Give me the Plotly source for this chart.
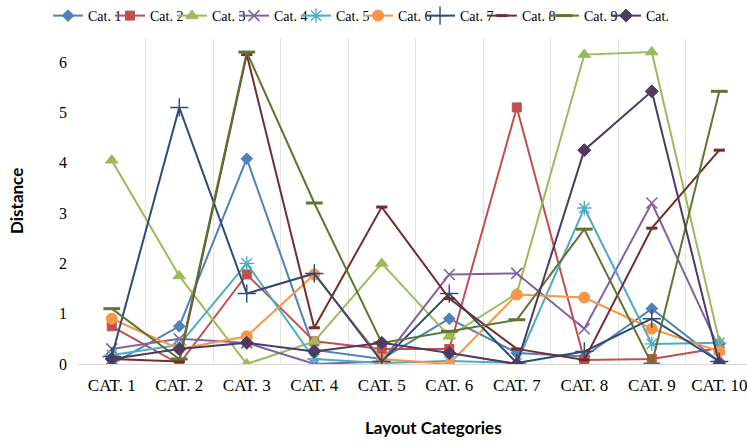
import plotly.graph_objects as go

categories = ["CAT. 1", "CAT. 2", "CAT. 3", "CAT. 4", "CAT. 5",
              "CAT. 6", "CAT. 7", "CAT. 8", "CAT. 9", "CAT. 10"]

series_names = ["Cat. 1", "Cat. 2", "Cat. 3", "Cat. 4", "Cat. 5",
                "Cat. 6", "Cat. 7", "Cat. 8", "Cat. 9", "Cat. 10"]

cat1 = [0.0, 0.75, 4.08, 0.28, 0.10, 0.90, 0.22, 0.15, 1.10, 0.05]
cat2 = [0.75, 0.0, 1.78, 0.45, 0.30, 0.30, 5.10, 0.08, 0.10, 0.32]
cat3 = [4.05, 1.75, 0.0, 0.45, 2.00, 0.55, 1.40, 6.15, 6.20, 0.45]
cat4 = [0.30, 0.50, 0.42, 0.0, 0.05, 1.78, 1.80, 0.70, 3.20, 0.30]
cat5 = [0.18, 0.38, 2.00, 0.10, 0.02, 0.06, 0.02, 3.10, 0.40, 0.42]
cat6 = [0.90, 0.30, 0.55, 1.78, 0.10, 0.0, 1.38, 1.32, 0.70, 0.25]
cat7 = [0.15, 5.10, 1.40, 1.80, 0.05, 1.40, 0.02, 0.25, 0.90, 0.05]
cat8 = [0.10, 0.05, 6.15, 0.72, 3.12, 1.30, 0.30, 0.08, 2.70, 4.25]
cat9 = [1.10, 0.10, 6.20, 3.20, 0.42, 0.65, 0.88, 2.68, 0.0, 5.42]
cat10 = [0.10, 0.30, 0.42, 0.25, 0.42, 0.22, 0.0, 4.25, 5.42, 0.0]

values = [cat1, cat2, cat3, cat4, cat5, cat6, cat7, cat8, cat9, cat10]

colors = ["#4F81BD", "#C0504D", "#9BBB59", "#8064A2", "#4BACC6",
          "#F79646", "#2C4D75", "#772C2A", "#5F7530", "#4D3B62"]
symbols = ["diamond", "square", "triangle-up", "x-thin-open", "asterisk-open",
           "circle", "cross-thin-open", "line-ew-open", "line-ew-open", "diamond"]
sizes = [9, 9, 11, 11, 12, 11, 13, 8, 12, 10]
mline = [1, 1, 1, 1.6, 1.4, 1, 1.4, 3, 3, 1]

fig = go.Figure()
for name, vals, c, s, sz, lw in zip(series_names, values, colors, symbols, sizes, mline):
    fig.add_trace(go.Scatter(
        x=categories, y=vals, name=name, mode="lines+markers",
        line=dict(color=c, width=2),
        marker=dict(symbol=s, size=sz, color=c, line=dict(color=c, width=lw)),
    ))

# invisible legend-only spacer entry so the last legend label is not clipped
fig.add_trace(go.Scatter(x=categories[:1], y=cat10[:1], name=" ", mode="lines",
                         visible="legendonly",
                         line=dict(color="rgba(0,0,0,0)", width=0),
                         hoverinfo="skip"))

serif = "Liberation Serif, Times New Roman, serif"
sans = "Lato, sans-serif"

fig.update_layout(
    width=747, height=445,
    margin=dict(l=78, r=0, t=38, b=81, autoexpand=False),
    paper_bgcolor="white", plot_bgcolor="white",
    font=dict(family=serif, size=15, color="#000000"),
    showlegend=True,
    legend=dict(
        orientation="h", xref="container", yref="container",
        x=0.0643, y=1.0, xanchor="left", yanchor="top",
        font=dict(family=serif, size=14, color="#000"),
        entrywidth=17, itemwidth=30, bgcolor="rgba(0,0,0,0)",
        tracegroupgap=0,
    ),
    xaxis=dict(
        type="category", range=[-0.5, 9.41], tickson="boundaries",
        showgrid=True, gridcolor="#e4e4e4", gridwidth=1,
        showline=True, linecolor="#d9d9d9", linewidth=1,
        ticks="", ticklabelstandoff=6, automargin=False,
        tickfont=dict(family=serif, size=17, color="#000"),
        zeroline=False, fixedrange=True,
    ),
    yaxis=dict(
        range=[0, 6.48], tickvals=[0, 1, 2, 3, 4, 5, 6],
        showgrid=False, zeroline=False, showline=False,
        ticks="", ticklabelstandoff=10, automargin=False,
        tickfont=dict(family=serif, size=16, color="#000"),
    ),
    annotations=[
        dict(text="<b>Layout Categories</b>", xref="paper", yref="paper",
             x=(433 - 78) / 669, y=-0.195, xanchor="center", yanchor="middle",
             showarrow=False, font=dict(family=sans, size=17, color="#000")),
        dict(text="<b>Distance</b>", xref="paper", yref="paper",
             x=(16 - 78) / 669, y=0.5, xanchor="center", yanchor="middle",
             textangle=-90, showarrow=False,
             font=dict(family=sans, size=17, color="#000")),
    ],
)

fig.write_html(
    "out.html",
    config={"displayModeBar": False},
    post_script="document.body.style.margin='0';document.body.style.padding='0';",
)
